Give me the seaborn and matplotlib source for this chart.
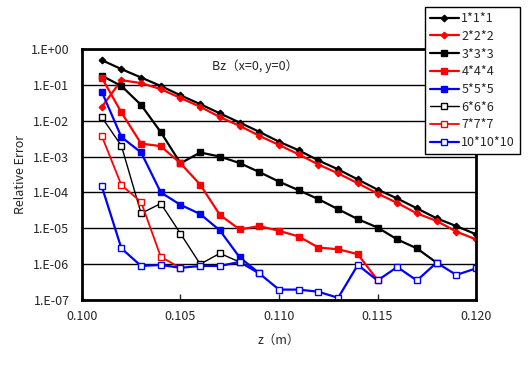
import numpy as np
import pandas as pd
import matplotlib
matplotlib.use("Agg")
import matplotlib.pyplot as plt
from matplotlib.ticker import FuncFormatter, FixedLocator
import seaborn as sns

nan = np.nan

# z positions (m)
z = [0.101, 0.102, 0.103, 0.104, 0.105, 0.106, 0.107, 0.108, 0.109, 0.110,
     0.111, 0.112, 0.113, 0.114, 0.115, 0.116, 0.117, 0.118, 0.119, 0.120]

# relative error for each mesh division
err_1 = [4.9e-1, 2.75e-1, 1.6e-1, 9.3e-2, 5.1e-2, 2.9e-2, 1.6e-2, 8.9e-3, 4.9e-3, 2.6e-3,
         1.5e-3, 7.8e-4, 4.4e-4, 2.3e-4, 1.2e-4, 6.8e-5, 3.6e-5, 1.9e-5, 1.15e-5, 6.8e-6]
err_2 = [2.4e-2, 1.35e-1, 1.12e-1, 7.6e-2, 4.3e-2, 2.45e-2, 1.26e-2, 7.2e-3, 3.8e-3, 2.1e-3,
         1.15e-3, 6.0e-4, 3.4e-4, 1.8e-4, 9.3e-5, 5.1e-5, 2.6e-5, 1.6e-5, 8.1e-6, 4.9e-6]
err_3 = [1.8e-1, 9.3e-2, 2.75e-2, 4.8e-3, 6.5e-4, 1.3e-3, 1.0e-3, 6.6e-4, 3.7e-4, 2.0e-4,
         1.15e-4, 6.5e-5, 3.4e-5, 1.8e-5, 1.05e-5, 4.9e-6, 2.75e-6, 1.1e-6, nan, nan]
err_4 = [1.6e-1, 1.7e-2, 2.3e-3, 1.95e-3, 6.5e-4, 1.65e-4, 2.35e-5, 9.3e-6, 1.15e-5, 8.5e-6,
         5.9e-6, 2.9e-6, 2.6e-6, 1.9e-6, 3.6e-7, nan, nan, nan, nan, nan]
err_5 = [6.5e-2, 3.5e-3, 1.3e-3, 1.0e-4, 4.5e-5, 2.5e-5, 8.7e-6, 1.55e-6, 5.6e-7, nan,
         nan, nan, nan, nan, nan, nan, nan, nan, nan, nan]
err_6 = [1.26e-2, 2.0e-3, 2.6e-5, 4.9e-5, 7.1e-6, 1.0e-6, 2.0e-6, 1.15e-6, nan, nan,
         nan, nan, nan, nan, nan, nan, nan, nan, nan, nan]
err_7 = [3.8e-3, 1.6e-4, 5.4e-5, 1.6e-6, 7.8e-7, nan, nan, nan, nan, nan,
         nan, nan, nan, nan, nan, nan, nan, nan, nan, nan]
err_10 = [1.5e-4, 2.75e-6, 8.9e-7, 9.5e-7, 7.9e-7, 8.9e-7, 8.9e-7, 1.15e-6, 5.5e-7, 1.95e-7,
          1.95e-7, 1.7e-7, 1.15e-7, 9.5e-7, 3.5e-7, 8.3e-7, 3.5e-7, 1.1e-6, 5.0e-7, 7.6e-7]

labels = ["1*1*1", "2*2*2", "3*3*3", "4*4*4", "5*5*5", "6*6*6", "7*7*7", "10*10*10"]
series = [err_1, err_2, err_3, err_4, err_5, err_6, err_7, err_10]

# (colour, marker, size, filled, line width)
styles = [
    ("black", "D", 3.3, True, 1.6),
    ("#ff0000", "D", 3.3, True, 1.6),
    ("black", "s", 4.6, True, 1.6),
    ("#ff0000", "s", 4.6, True, 1.6),
    ("#0000ff", "s", 4.6, True, 1.6),
    ("black", "s", 4.8, False, 1.0),
    ("#ff0000", "s", 4.8, False, 1.3),
    ("#0000ff", "s", 4.8, False, 1.6),
]

sns.set_style("white")
plt.rcParams['font.family'] = ['Noto Sans CJK JP', 'DejaVu Sans']

fig = plt.figure(figsize=(5.29, 3.70), dpi=100)
ax = fig.add_axes([82 / 529, 1 - 300 / 370, (476 - 82) / 529, (300 - 49) / 370])

for lab, vals, (col, mk, ms, filled, lw) in zip(labels, series, styles):
    df = pd.DataFrame({"z": z, "err": vals}).dropna()
    sns.lineplot(data=df, x="z", y="err", ax=ax, color=col, linewidth=lw,
                 marker=mk, markersize=ms,
                 markerfacecolor=col if filled else "white",
                 markeredgecolor=col, markeredgewidth=1.0,
                 label=lab, legend=False)

ax.set_yscale("log")
ax.set_ylim(1e-7, 1)
ax.set_xlim(0.100, 0.120)
ax.yaxis.set_major_locator(FixedLocator([10.0 ** e for e in range(-7, 1)]))
ax.yaxis.set_minor_locator(FixedLocator([]))
ax.yaxis.set_major_formatter(FuncFormatter(lambda v, p: "1.E%+03d" % int(round(np.log10(v)))))
ax.set_xticks([0.100, 0.105, 0.110, 0.115, 0.120])
ax.xaxis.set_major_formatter(FuncFormatter(lambda v, p: "%.3f" % v))

ax.grid(axis="y", color="black", linewidth=1.0)
ax.grid(axis="x", visible=False)
for s in ax.spines.values():
    s.set_color("black")
    s.set_linewidth(2.0)

ax.tick_params(axis="x", direction="in", length=4, width=1, bottom=True, labelsize=9, pad=7)
ax.tick_params(axis="y", length=0, labelsize=9, pad=9)

ax.set_xlabel("z（m）", fontsize=9, labelpad=8)
ax.set_ylabel("Relative Error", fontsize=9, labelpad=3)
ax.text(0.44, 0.93, "Bz（x=0, y=0）", transform=ax.transAxes, fontsize=9,
        ha="center", va="center")

handles, leg_labels = ax.get_legend_handles_labels()
leg = fig.legend(handles, leg_labels, loc="upper right",
                 bbox_to_anchor=(520 / 529, 1 - 7 / 370), fontsize=9,
                 frameon=True, fancybox=False, framealpha=1,
                 handlelength=2.3, handletextpad=0.2, labelspacing=0.38,
                 borderpad=0.4, borderaxespad=0)
leg.get_frame().set_edgecolor("black")
leg.get_frame().set_linewidth(1.0)

fig.savefig("out.png", dpi=100)
